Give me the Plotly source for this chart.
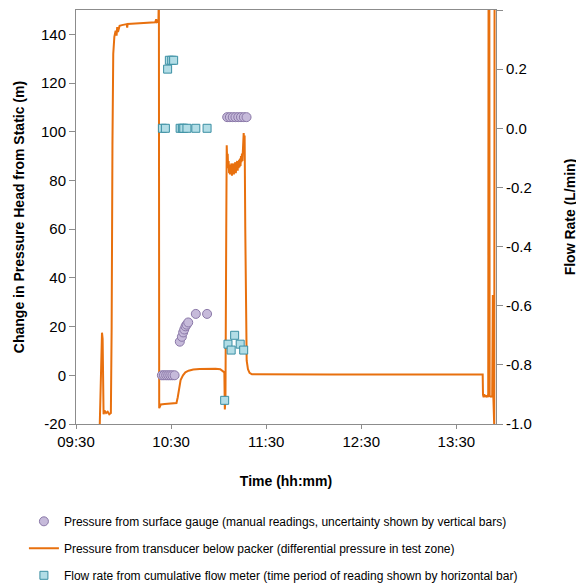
import pandas as pd
import plotly.graph_objects as go

BASE = pd.Timestamp("2000-01-01 09:30")

# Transducer pressure (minutes after 09:30, pressure head m)
trans_min = [15.0, 15.5, 16.0, 16.4, 16.8, 17.1, 17.4, 18.0, 19.0, 20.0, 21.0, 22.0,
             22.5, 23.0, 23.5, 24.2, 25.0, 25.6, 26.0, 26.5, 27.5, 29.0, 31.0, 32.0,
             32.3, 32.6, 35.0, 38.0, 42.0, 46.0, 50.0, 50.6, 51.0, 52.0, 52.3, 52.5,
             53.5, 56.0, 60.0, 63.4, 64.2, 65.0, 66.0, 67.5, 69.0, 71.0, 74.0, 78.0,
             83.0, 88.0, 91.0, 92.8, 93.6, 93.9, 94.3, 94.8, 95.1,
             95.4, 95.7, 96.0, 96.3, 96.6, 96.9, 97.2, 97.5, 97.8, 98.1, 98.4, 98.7,
             99.0, 99.3, 99.6, 99.9, 100.2, 100.5, 100.8, 101.1, 101.4, 101.7, 102.0,
             102.3, 102.6, 102.9, 103.2, 103.5, 103.8, 104.1, 104.4, 104.7,
             105.0, 105.4, 105.8, 106.1, 106.4, 106.8, 107.2, 107.7, 108.5, 109.5,
             111.0, 130.0, 160.0, 190.0, 220.0, 256.6, 256.8, 257.2, 257.6, 258.0,
             258.5, 259.0, 259.6, 260.1, 260.3, 260.8, 261.0, 261.8, 262.6, 263.0,
             263.3, 263.9, 264.1]
trans_p = [-20, -5, 8, 17.5, 15, -12, -16, -14.5, -15.5, -15, -16, -15.5,
           20, 95, 132, 139, 141.5, 139.5, 143, 141, 143.5, 143.8, 144, 144.2,
           142.8, 144.3, 144.4, 144.5, 144.6, 144.8, 145, 146.2, 145, 145.2, 158, -13.5,
           -12, -11.8, -11.6, -11.4, -9, -5.5, -2, 0, 1.2, 1.9, 2.4, 2.6,
           2.7, 2.7, 2.5, 1.8, 1.2, -14, -10, 60, 94.5,
           88, 91, 85, 88, 83, 86.5, 82.5, 86, 83, 87, 82, 85.5,
           83.5, 87, 82.5, 86, 84, 87.5, 83, 86, 84.5, 88, 84,
           87, 85, 88.5, 85.5, 89, 86, 90, 87.5, 91,
           88, 95, 99.5, 96, 98.5, 60, 15, 6, 2.5, 1,
           0.4, 0.3, 0.3, 0.3, 0.3, 0.3, -8, -9, -7.8, -8.8,
           -8.2, -9, -8.5, -8.6, 160, 160, -8.5, -8.8, -8.6, 33,
           -8.5, -21, 160]

# Surface gauge readings (minutes after 09:30, m)
gauge_min = [54.2, 55.5, 56.9, 58.2, 59.5, 60.8, 62.2,
             65.5, 66.8, 67.6, 68.3, 69.1, 69.8, 70.8, 75.6, 82.7,
             95.4, 97.1, 98.9, 100.6, 102.4, 104.1, 105.9, 107.6]
gauge_p = [0, 0, 0, 0, 0, 0, 0,
           13.8, 15.8, 17.6, 18.8, 20.1, 20.8, 21.7, 25.2, 25.2,
           106, 106, 106, 106, 106, 106, 106, 106]

# Flow meter readings (minutes after 09:30, L/min)
flow_min = [54.5, 56.4, 57.8, 58.9, 60.4, 61.6, 65.7, 67.1, 68.0, 70.0, 75.6, 82.7,
            93.8, 95.9, 97.9, 100.1, 103.6, 105.8]
flow_q = [0.0, 0.0, 0.2, 0.23, 0.23, 0.23, 0.0, 0.0, 0.0, 0.0, 0.0, 0.0,
          -0.92, -0.73, -0.75, -0.70, -0.73, -0.75]

x_ticks = ["09:30", "10:30", "11:30", "12:30", "13:30"]
y1_ticks = [-20, 0, 20, 40, 60, 80, 100, 120, 140]
y1_labels = ["-20", "0", "20", "40", "60", "80", "100", "120", "140"]
y2_ticks = [-1.0, -0.8, -0.6, -0.4, -0.2, 0.0, 0.2, 0.4]
y2_labels = ["-1.0", "-0.8", "-0.6", "-0.4", "-0.2", "0.0", "0.2", "0.4"]


def to_time(mins):
    return [BASE + pd.Timedelta(minutes=m) for m in mins]


FONT = "Arial, Liberation Sans, sans-serif"
ORANGE = "#E8700E"
AXIS = "#8C8C8C"

fig = go.Figure()

fig.add_trace(go.Scatter(
    x=to_time(trans_min), y=trans_p, mode="lines",
    line=dict(color=ORANGE, width=2),
    name="Pressure from transducer below packer (differential pressure in test zone)",
    legendrank=2, legendgroup="b"))

fig.add_trace(go.Scatter(
    x=to_time(gauge_min), y=gauge_p, mode="markers",
    marker=dict(symbol="circle", size=9, color="#C6BADA",
                line=dict(color="#8A78A8", width=1)),
    name="Pressure from surface gauge (manual readings, uncertainty shown by vertical bars)",
    legendrank=1, legendgroup="a"))

fig.add_trace(go.Scatter(
    x=to_time(flow_min), y=flow_q, mode="markers", yaxis="y2",
    marker=dict(symbol="square", size=8, color="#B2DDE6",
                line=dict(color="#3B8FA3", width=1)),
    name="Flow rate from cumulative flow meter (time period of reading shown by horizontal bar)",
    legendrank=3, legendgroup="c"))

tickvals = [pd.Timestamp("2000-01-01 " + t) for t in x_ticks]

fig.update_layout(
    width=576, height=576,
    margin=dict(l=68, r=88, t=2, b=160, autoexpand=False),
    paper_bgcolor="white", plot_bgcolor="white",
    font=dict(family=FONT, color="#000000", size=15),
    xaxis=dict(
        range=[BASE, BASE + pd.Timedelta(minutes=265)],
        tickvals=tickvals, ticktext=x_ticks,
        showline=True, linecolor=AXIS, linewidth=1, mirror=True,
        ticks="outside", ticklen=4, tickcolor=AXIS,
        showgrid=False, zeroline=False,
        tickfont=dict(size=15),
        title=dict(text="<b>Time (hh:mm)</b>", font=dict(size=14), standoff=27),
    ),
    yaxis=dict(
        range=[-20, 150], tickvals=y1_ticks, ticktext=y1_labels,
        showline=True, linecolor=AXIS, linewidth=1,
        ticks="outside", ticklen=6, tickcolor=AXIS,
        showgrid=False, zeroline=False,
        tickfont=dict(size=15),
        title=dict(text="<b>Change in Pressure Head from Static (m)</b>",
                   font=dict(size=14), standoff=13),
    ),
    yaxis2=dict(
        range=[-1.0, 0.4], tickvals=y2_ticks, ticktext=y2_labels,
        overlaying="y", side="right",
        showline=True, linecolor=AXIS, linewidth=1,
        ticks="outside", ticklen=6, tickcolor=AXIS,
        showgrid=False, zeroline=False,
        tickfont=dict(size=15),
        title=dict(text="<b>Flow Rate (L/min)</b>", font=dict(size=14), standoff=34),
    ),
    showlegend=True,
    legend=dict(
        x=-0.124, xanchor="left", y=-0.2, yanchor="top",
        font=dict(size=12, family=FONT, color="#000000"),
        tracegroupgap=8, bgcolor="rgba(0,0,0,0)", borderwidth=0,
    ),
)

fig.write_html("out.html")
